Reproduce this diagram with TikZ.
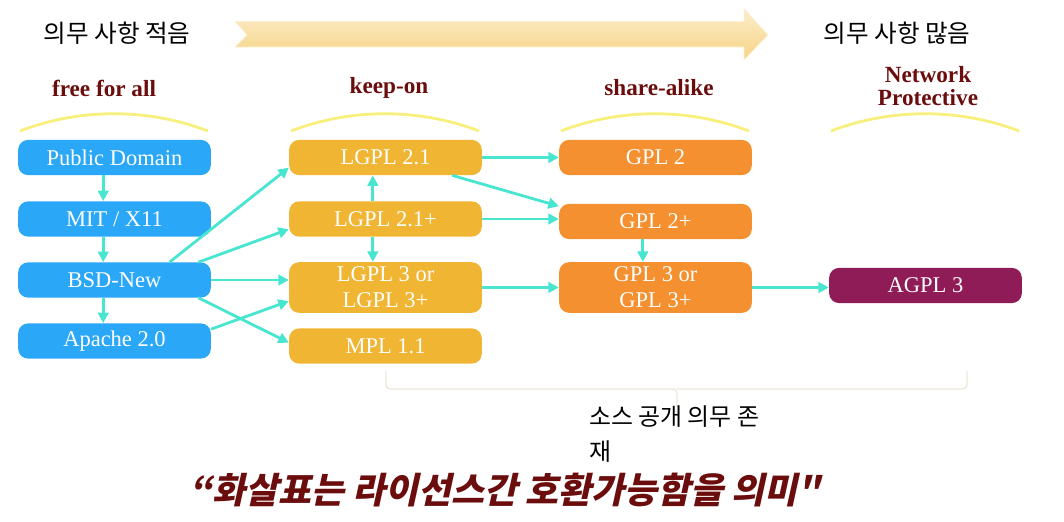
\documentclass[tikz,border=0pt]{standalone}
\usepackage{fontspec}
\setmainfont{Liberation Serif}
\newfontfamily\krfont{Noto Sans CJK KR}
\newfontfamily\krslant[FakeSlant=0.22]{Noto Sans CJK KR}
\usetikzlibrary{arrows.meta,positioning,calc}
\definecolor{licBlue}{HTML}{2AA7F7}
\definecolor{licGold}{HTML}{F0B533}
\definecolor{licOrange}{HTML}{F4902F}
\definecolor{licPlum}{HTML}{8F1C57}
\definecolor{licArrow}{HTML}{48E5D0}
\definecolor{hdrRed}{HTML}{6B0D0D}
\definecolor{arcYellow}{HTML}{F8F07C}
\definecolor{bandLight}{HTML}{FBEDCB}
\definecolor{bandDark}{HTML}{F6D385}
\definecolor{braceGray}{HTML}{ECE8DC}

\begin{document}
\begin{tikzpicture}[x=0.025cm,y=-0.025cm,
  lic/.style={rounded corners=7pt,minimum width=137pt,minimum height=25pt,
    inner sep=2pt,text=white,align=center,font=\fontsize{16}{18.5}\selectfont},
  hdr/.style={text=hdrRed,align=center,font=\bfseries\fontsize{16.5}{16.5}\selectfont},
  compat/.style={draw=licArrow,line width=2pt,-{Triangle[length=7.5pt,width=7.5pt]}},
  arcline/.style={draw=arcYellow,line width=2pt}]
  \useasboundingbox (0,0) rectangle (1064,521);
  % obligation band on top
  \shade[top color=bandLight,bottom color=bandDark,draw=bandLight!80!white,line width=0.6pt]
    (235,21.5) -- (744,21.5) -- (744,8.6) -- (768,35) -- (744,60) -- (744,47)
    -- (235,47) -- (247,35) -- cycle;
  \node[font=\krfont\fontsize{17.5}{20}\selectfont] (few) at (117,33) {의무 사항 적음};
  \node[font=\krfont\fontsize{17.5}{20}\selectfont] (many) at (897,33) {의무 사항 많음};
  % column headers
  \node[hdr] (hfree) at (104,88) {free for all};
  \node[hdr] (hkeep) at (389,88) {keep-on};
  \node[hdr] (hshare) at (659,88) {share-alike};
  \node[hdr] (hnet) at (928,86) {Network\\Protective};
  \foreach \cx in {114,385,655,925}{
    \draw[arcline] (\cx-94,131) .. controls (\cx-34,108) and (\cx+34,108) .. (\cx+94,131);
  }
  % licences
  \node[lic,fill=licBlue] (pd) at (114.5,157.5) {Public Domain};
  \node[lic,fill=licBlue] (mit) at (114.5,219) {MIT / X11};
  \node[lic,fill=licBlue] (bsd) at (114.5,280) {BSD-New};
  \node[lic,fill=licBlue] (apache) at (114.5,341) {Apache 2.0};
  \node[lic,fill=licGold] (lg21) at (385.5,157.5) {LGPL 2.1};
  \node[lic,fill=licGold] (lg21p) at (385.5,219) {LGPL 2.1+};
  \node[lic,fill=licGold,minimum height=36pt] (lg3) at (385.5,287.5) {LGPL 3 or\\LGPL 3+};
  \node[lic,fill=licGold] (mpl) at (385.5,346) {MPL 1.1};
  \node[lic,fill=licOrange] (gpl2) at (655.5,157.5) {GPL 2};
  \node[lic,fill=licOrange] (gpl2p) at (655.5,221.5) {GPL 2+};
  \node[lic,fill=licOrange,minimum height=36pt] (gpl3) at (655.5,287.5) {GPL 3 or\\GPL 3+};
  \node[lic,fill=licPlum] (agpl) at (925.5,285.5) {AGPL 3};
  % compatibility arrows
  \draw[compat] ([xshift=-8pt]pd.south) -- ([xshift=-8pt]mit.north);
  \draw[compat] ([xshift=-8pt]mit.south) -- ([xshift=-8pt]bsd.north);
  \draw[compat] ([xshift=-8pt]bsd.south) -- ([xshift=-8pt]apache.north);
  \draw[compat] (bsd.18) -- (lg21.186);
  \draw[compat] (bsd.12) -- (lg21p.186);
  \draw[compat] (bsd.east) -- (bsd.east -| lg3.west);
  \draw[compat] (bsd.-12) -- (mpl.178);
  \draw[compat] (apache.7) -- (lg3.188);
  \draw[compat] ([xshift=-9pt]lg21p.north) -- ([xshift=-9pt]lg21.south);
  \draw[compat] ([xshift=-9pt]lg21p.south) -- ([xshift=-9pt]lg3.north);
  \draw[compat] (lg21.east) -- (gpl2.west);
  \draw[compat] (lg21.-15) -- (gpl2p.171);
  \draw[compat] (lg21p.east) -- (lg21p.east -| gpl2p.west);
  \draw[compat] ([xshift=-9pt]gpl2p.south) -- ([xshift=-9pt]gpl3.north);
  \draw[compat] (lg3.east) -- (gpl3.west);
  \draw[compat] (gpl3.east) -- (gpl3.east -| agpl.west);
  % source disclosure brace
  \draw[braceGray,line width=1pt,rounded corners=3pt]
    (386,371) -- (386,389) -- (677,389) -- (677,407);
  \draw[braceGray,line width=1pt,rounded corners=3pt]
    (967,371) -- (967,389) -- (677,389);
  \node[anchor=north west,align=left,inner sep=0pt,
    font=\krfont\fontsize{17}{25}\selectfont] (src) at (589,405) {소스 공개 의무 존\\재};
  \node[text=hdrRed,font=\krslant\bfseries\fontsize{25.5}{28}\selectfont] (note) at (505,490)
    {“화살표는 라이선스간 호환가능함을 의미"};
\end{tikzpicture}
\end{document}
